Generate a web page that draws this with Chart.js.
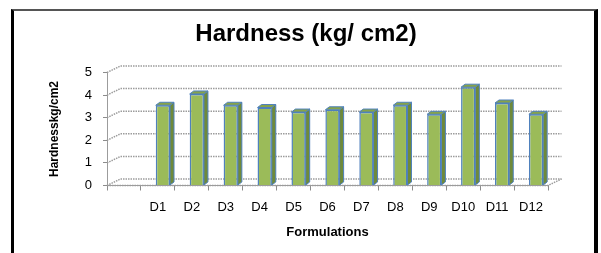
<!DOCTYPE html>
<html>
<head>
<meta charset="utf-8">
<script src="https://cdn.jsdelivr.net/npm/chart.js@4"></script>
<style>
  body { margin: 0; background: #fff; }
  #wrap { position: relative; width: 601px; height: 253px; overflow: hidden; }
  #frame {
    position: absolute; left: 11px; top: 9px; width: 580px; height: 260px;
    border-left: 3px solid #000; border-right: 4px solid #000; border-top: 2px solid #555;
  }
</style>
</head>
<body>
<div id="wrap">
  <canvas id="chart" width="601" height="253"></canvas>
  <div id="frame"></div>
</div>
<script>
// first slot is an empty category in the original sheet
const categories = ['', 'D1', 'D2', 'D3', 'D4', 'D5', 'D6', 'D7', 'D8', 'D9', 'D10', 'D11', 'D12'];
const hardness = [null, 3.55, 4.05, 3.55, 3.45, 3.25, 3.35, 3.25, 3.55, 3.15, 4.35, 3.65, 3.15];
const yTicks = [0, 1, 2, 3, 4, 5];

const wallDepth = { dx: 13.5, dy: 6.5 };
const barDepth = { dx: 4, dy: 3 };
const barShift = 5;

/**
 * Fake 3D: back wall grid, left wall diagonals and floor,
 * then shifts the bars a little into the depth and adds side / top faces.
 */
const depthPlugin = {
  id: 'depth',
  beforeDatasetsDraw(chart) {
    const { ctx, chartArea: a, scales: { y } } = chart;
    ctx.save();
    ctx.strokeStyle = '#9c9c9c';
    ctx.lineWidth = 1.5;
    ctx.setLineDash([1.5, 1]);
    yTicks.forEach(v => {
      const py = y.getPixelForValue(v);
      ctx.beginPath();
      ctx.moveTo(a.left, py);
      ctx.lineTo(a.left + wallDepth.dx, py - wallDepth.dy);
      ctx.lineTo(a.right + wallDepth.dx, py - wallDepth.dy);
      ctx.stroke();
    });
    ctx.beginPath();
    ctx.moveTo(a.left, a.bottom);
    ctx.lineTo(a.right, a.bottom);
    ctx.lineTo(a.right + wallDepth.dx, a.bottom - wallDepth.dy);
    ctx.stroke();
    ctx.restore();

    ctx.save();
    ctx.translate(barShift, 0);
  },
  afterDatasetsDraw(chart) {
    const ctx = chart.ctx;
    const bars = chart.getDatasetMeta(0).data;
    bars.forEach((bar, i) => {
      if (hardness[i] == null) return;
      const { x, y, base, width } = bar.getProps(['x', 'y', 'base', 'width'], true);
      const l = x - width / 2;
      const r = x + width / 2;
      ctx.lineWidth = 1;
      ctx.strokeStyle = '#4f81bd';

      ctx.beginPath();
      ctx.moveTo(r, y);
      ctx.lineTo(r + barDepth.dx, y - barDepth.dy);
      ctx.lineTo(r + barDepth.dx, base - barDepth.dy);
      ctx.lineTo(r, base);
      ctx.closePath();
      ctx.fillStyle = '#6f8a3a';
      ctx.fill();
      ctx.stroke();

      ctx.beginPath();
      ctx.moveTo(l, y);
      ctx.lineTo(l + barDepth.dx, y - barDepth.dy);
      ctx.lineTo(r + barDepth.dx, y - barDepth.dy);
      ctx.lineTo(r, y);
      ctx.closePath();
      ctx.fillStyle = '#86a34a';
      ctx.fill();
      ctx.stroke();
    });
    ctx.restore();
  }
};

Chart.defaults.font.family = '"Liberation Sans", Arial, sans-serif';
Chart.defaults.color = '#000';

new Chart(document.getElementById('chart'), {
  type: 'bar',
  data: {
    labels: categories,
    datasets: [{
      label: 'Hardness',
      data: hardness,
      backgroundColor: '#9bbb59',
      borderColor: '#4f81bd',
      borderWidth: 1.5,
      barPercentage: 0.42,
      categoryPercentage: 1
    }]
  },
  options: {
    responsive: false,
    animation: false,
    layout: { padding: { left: 64, right: 53, top: 10, bottom: 10 } },
    plugins: {
      legend: { display: false },
      tooltip: { enabled: false },
      title: {
        display: true,
        text: 'Hardness (kg/ cm2)',
        font: { size: 24, weight: 'bold' },
        padding: { top: 9.6, bottom: 24.1 }
      }
    },
    scales: {
      x: {
        afterFit: s => { s.height = 57.5; },
        grid: { offset: true, drawOnChartArea: false, tickLength: 5, color: '#8c8c8c' },
        border: { display: true, color: '#9c9c9c' },
        ticks: { autoSkip: false, maxRotation: 0, padding: 9, font: { size: 13 } },
        title: {
          display: true,
          text: 'Formulations',
          font: { size: 13, weight: 'bold' },
          padding: { top: 0, bottom: 3 }
        }
      },
      y: {
        min: 0,
        max: 5,
        afterFit: s => { s.width = 43; },
        grid: { drawOnChartArea: false, tickLength: 4, color: '#8c8c8c' },
        border: { display: true, color: '#9c9c9c', dash: [1.5, 1] },
        ticks: { stepSize: 1, padding: 11, font: { size: 13 } },
        title: {
          display: true,
          text: 'Hardnesskg/cm2',
          font: { size: 12, weight: 'bold' },
          padding: { top: -16.2, bottom: 0 }
        }
      }
    }
  },
  plugins: [depthPlugin]
});
</script>
</body>
</html>
